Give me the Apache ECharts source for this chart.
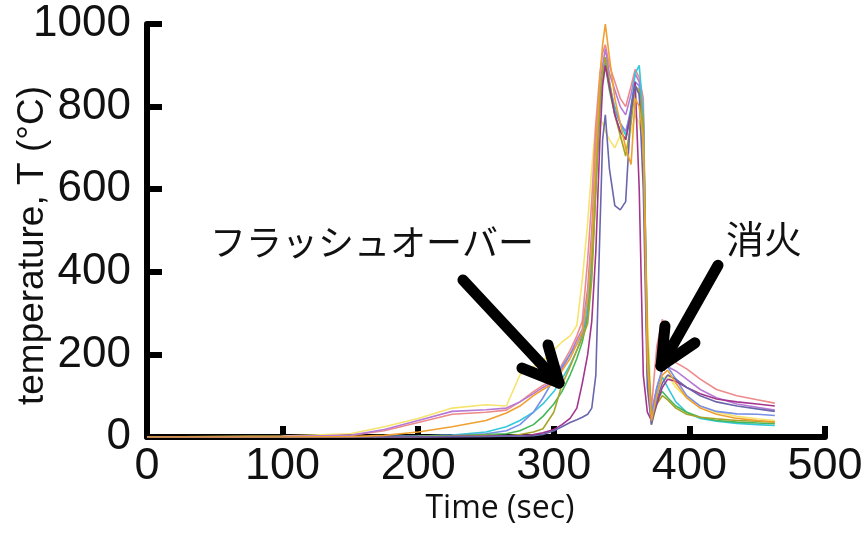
<!DOCTYPE html>
<html>
<head>
<meta charset="utf-8">
<script src="https://cdn.jsdelivr.net/npm/echarts@6/dist/echarts.min.js"></script>
<style>
html,body{margin:0;padding:0;background:#fff;}
#chart{width:866px;height:537px;}
</style>
</head>
<body>
<div id="chart"></div>
<script>
// time (sec)
var times = [0,100,150,175,200,225,250,265,275,285, 292,300,306,312,317,321,325,328,331,334, 336,338,341,345,349,353,357,360,363,366, 369,372,376,380,384,390,398,408,420,435, 450,463];

var yellowT  = [0,2,8,25,45,70,78,75,150,170, 185,210,230,245,270,380,520,650,760,770, 760,740,720,700,730,690,740,780,760,700, 300,60,110,140,150,120,95,75,60,50, 44,40];
var pinkT    = [0,1,4,15,35,55,60,65,85,110, 125,140,175,210,245,280,430,574,760,880, 930,950,900,860,820,800,850,890,870,820, 200,70,220,285,230,180,165,140,115,100, 90,82];
var purpleT  = [0,1,4,18,40,62,66,70,85,105, 120,135,165,200,235,260,360,500,700,860, 900,940,880,840,800,780,830,880,860,780, 150,60,120,160,170,160,140,115,95,80, 72,65];
var cyanT    = [0,0,0,1,2,5,12,25,40,60, 80,110,140,175,210,245,320,450,650,830, 880,910,850,800,760,730,800,880,900,780, 220,40,110,145,120,85,60,45,38,33, 30,28];
var blueT    = [0,0,0,1,2,4,8,15,30,60, 95,140,170,200,225,250,300,420,620,800, 870,920,860,790,760,740,790,860,850,760, 180,50,120,165,170,140,100,75,62,56, 55,52];
var greenT   = [0,0,0,0,1,3,6,8,15,30, 50,80,110,150,190,230,290,400,600,800, 870,900,840,780,740,720,780,850,830,720, 160,40,90,110,95,75,60,48,40,36, 34,32];
var oliveT   = [0,0,0,0,1,2,4,3,6,12, 20,60,126,170,210,240,275,380,600,820, 880,920,860,780,730,680,760,850,840,760, 250,30,80,100,90,70,55,48,44,40, 38,36];
var magentaT = [0,0,0,0,0,1,2,3,3,6, 10,18,30,45,70,130,200,280,450,720, 850,900,850,780,740,720,790,860,600,150, 60,40,80,120,140,135,120,105,92,85, 80,75];
var navyT    = [0,0,0,0,0,1,1,2,2,3, 6,15,25,35,42,48,55,70,150,500, 720,780,650,560,550,570,800,850,830,600, 120,30,90,130,150,140,120,100,85,75, 68,62];
var orangeT  = [0,0,1,4,12,25,40,58,75,100, 115,130,160,190,225,255,340,470,680,870, 950,1000,920,820,760,700,660,820,800,720, 180,40,100,150,162,130,95,70,55,45, 40,36];

var seriesNames = ['yellow','pink','purple','cyan','blue','green','olive','magenta','navy','orange'];
var seriesData  = [yellowT,pinkT,purpleT,cyanT,blueT,greenT,oliveT,magentaT,navyT,orangeT];
var seriesColors = ['#f6e46c','#ee8a8a','#b67ad6','#35c8dc','#7890e8','#45b85a','#a6a52a','#a3358f','#6a66ac','#f0a030'];

var xTicks = [0,100,200,300,400,500];
var yTicks = [0,200,400,600,800,1000];

// annotation arrows [time, temperature]
var arrow1 = {start:[233.0,380], tip:[303.8,131], wingA:[295.7,223], wingB:[276.5,167]};
var arrow2 = {start:[421.1,416], tip:[379.1,172], wingA:[382.0,269], wingB:[404.1,228]};
var labelFlash = 'フラッシュオーバー';
var labelExt = '消火';

function pairs(a){ return a.map(function(v,i){ return [times[i], v]; }); }

var series = seriesData.map(function(d,i){
  return {
    name: seriesNames[i], type:'line', data: pairs(d), showSymbol:false, symbol:'none',
    lineStyle:{color:seriesColors[i], width:1.6}, z: 2, animation:false
  };
});

function seg(a,b){ return [{coord:a},{coord:b}]; }
series.push({
  name:'arrows', type:'line', data:[], z:5, animation:false,
  markLine:{
    silent:true, symbol:['none','none'], animation:false,
    label:{show:false},
    lineStyle:{color:'#000', width:11, type:'solid', cap:'round'},
    emphasis:{disabled:true},
    data:[
      seg(arrow1.start, arrow1.tip), seg(arrow1.tip, arrow1.wingA), seg(arrow1.tip, arrow1.wingB),
      seg(arrow2.start, arrow2.tip), seg(arrow2.tip, arrow2.wingA), seg(arrow2.tip, arrow2.wingB)
    ]
  }
});

var numFont = "'Liberation Sans',Arial,sans-serif";

var chart = echarts.init(document.getElementById('chart'), null, {renderer:'canvas'});
chart.setOption({
  animation:false,
  backgroundColor:'#fff',
  grid:{left:147, right:41, top:24, bottom:100, containLabel:false, outerBoundsMode:'none'},
  xAxis:{
    type:'value', min:0, max:500, interval:100,
    name:'Time (sec)', nameLocation:'middle', nameGap:56, nameMoveOverlap:false,
    nameTextStyle:{fontFamily:"'Open Sans',sans-serif", fontSize:32, color:'#111', padding:[0,0,0,28]},
    axisLine:{show:true, onZero:false, lineStyle:{color:'#000', width:6}},
    axisTick:{show:true, inside:true, length:11, lineStyle:{color:'#000', width:6}},
    axisLabel:{fontFamily:numFont, fontSize:45, color:'#111', margin:7,
      formatter:function(v){ return xTicks.indexOf(v)>=0 ? String(v) : ''; }},
    splitLine:{show:false}
  },
  yAxis:{
    type:'value', min:0, max:1000, interval:200,
    name:'temperature, T (°C)', nameLocation:'middle', nameGap:96, nameMoveOverlap:false,
    nameTextStyle:{fontFamily:"'Liberation Sans',Arial,sans-serif", fontSize:37, color:'#111', padding:[0,30,0,0]},
    axisLine:{show:true, onZero:false, lineStyle:{color:'#000', width:6}},
    axisTick:{show:true, inside:true, length:15, lineStyle:{color:'#000', width:6}},
    axisLabel:{fontFamily:numFont, fontSize:44, color:'#111', margin:16,
      formatter:function(v){ return yTicks.indexOf(v)>=0 ? String(v) : ''; }},
    splitLine:{show:false}
  },
  graphic:[
    {type:'text', left:210, top:224, style:{text:labelFlash, font:"36px 'Noto Sans CJK JP'", fill:'#111'}},
    {type:'text', left:726, top:220, style:{text:labelExt, font:"38px 'Noto Sans CJK JP'", fill:'#111'}}
  ],
  series: series
});
</script>
</body>
</html>
